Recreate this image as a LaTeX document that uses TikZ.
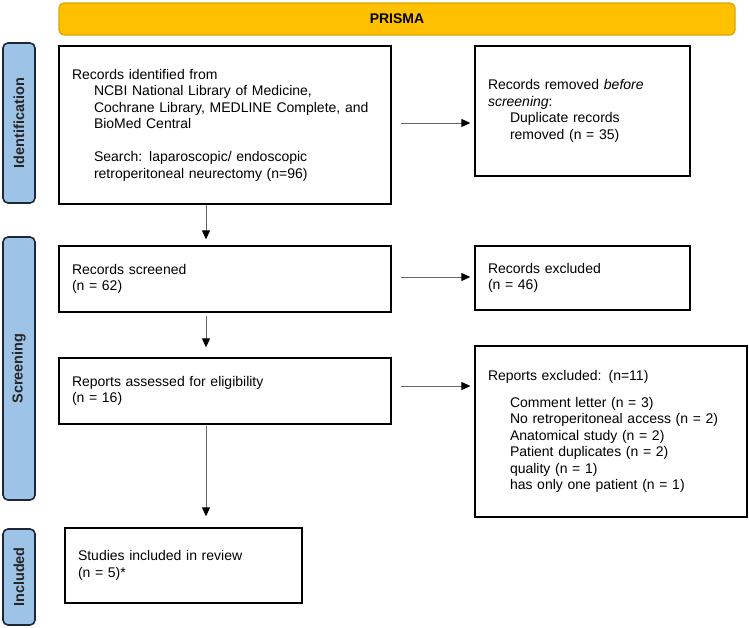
\documentclass[tikz,border=0pt]{standalone}
\usepackage{fontspec}
\setmainfont{Liberation Sans}
\usepackage{xcolor}
\usetikzlibrary{calc,positioning,arrows.meta}

\definecolor{prismagold}{RGB}{255,192,0}
\definecolor{prismaedge}{RGB}{222,166,0}
\definecolor{phaseblue}{RGB}{157,195,230}
\definecolor{phaseedge}{RGB}{30,38,56}
\newcommand{\indt}{\hspace*{22pt}}

\begin{document}
\begin{tikzpicture}[
    x=1pt, y=-1pt,
    box/.style={rectangle, draw=black, line width=1.3pt, fill=white, align=left,
        inner xsep=13pt, inner ysep=2pt, font=\fontsize{14}{16.5}\selectfont},
    phase/.style={rectangle, rounded corners=5pt, draw=phaseedge, line width=1.6pt,
        fill=phaseblue, minimum width=32pt, inner sep=0pt,
        font=\fontsize{14.5}{16}\selectfont\bfseries, text=black!85},
    arrow/.style={-{Triangle[length=9pt,width=8pt,color=black,fill=black]}, draw=black!60, line width=1pt}
]
\useasboundingbox (0,0) rectangle (749,627);

\node[rectangle, rounded corners=5pt, draw=prismaedge, line width=1.3pt, fill=prismagold,
    minimum width=676pt, minimum height=32pt, font=\fontsize{14}{16}\selectfont\bfseries]
    (prisma) at (397,19) {PRISMA};

\node[phase, minimum height=160pt] (idbar) at (19,123) {\rotatebox{90}{Identification}};
\node[phase, minimum height=263pt] (scrbar) at (19,368.5) {\rotatebox{90}{Screening}};
\node[phase, minimum height=96pt] (incbar) at (19,577) {\rotatebox{90}{Included}};

\node[box, text width=306pt, minimum height=158pt] (ident) at (225,125) {%
    Records identified from\\
    \indt NCBI National Library of Medicine,\\
    \indt Cochrane Library, MEDLINE Complete, and\\
    \indt BioMed Central\\[16.5pt]
    \indt Search: laparoscopic/ endoscopic\\
    \indt retroperitoneal neurectomy (n=96)};
\node[box, text width=189pt, minimum height=130pt] (dupl) at (582.5,111) {%
    Records removed \emph{before}\\
    \emph{screening}:\\
    \indt Duplicate records\\
    \indt removed (n = 35)\\[14pt]};

\node[box, text width=306pt, minimum height=66pt] (screened) at (225,279) {%
    Records screened\\
    (n = 62)};
\node[box, text width=189pt, minimum height=64pt] (excl) at (582.5,278) {%
    Records excluded\\
    (n = 46)};

\node[box, text width=306pt, minimum height=66pt] (assessed) at (225,391) {%
    Reports assessed for eligibility\\
    (n = 16)};
\node[box, text width=246pt, minimum height=171pt] (rep) at (611,431.5) {%
    Reports excluded: (n=11)\\[10.5pt]
    \indt Comment letter (n = 3)\\
    \indt No retroperitoneal access (n = 2)\\
    \indt Anatomical study (n = 2)\\
    \indt Patient duplicates (n = 2)\\
    \indt quality (n = 1)\\
    \indt has only one patient (n = 1)};

\node[box, text width=211pt, minimum height=75pt] (incl) at (183.5,565.5) {%
    Studies included in review\\
    (n = 5)*};

\draw[arrow, shorten >=6pt] ([xshift=-19pt]ident.south) -- ([xshift=-19pt]screened.north);
\draw[arrow, shorten <=3pt, shorten >=10pt] ([xshift=-19pt]screened.south) -- ([xshift=-19pt]assessed.north);
\draw[arrow, shorten <=1pt, shorten >=11pt] ([xshift=-19pt]assessed.south) -- ([xshift=-19pt]assessed.south |- incl.north);

\draw[arrow, shorten <=9pt, shorten >=4pt] ([yshift=2pt]ident.east) -- ([yshift=2pt]ident.east -| dupl.west);
\draw[arrow, shorten <=9pt, shorten >=4pt] ([yshift=2pt]screened.east) -- ([yshift=2pt]screened.east -| excl.west);
\draw[arrow, shorten <=9pt, shorten >=4pt] ([yshift=5pt]assessed.east) -- ([yshift=5pt]assessed.east -| rep.west);

\end{tikzpicture}
\end{document}
